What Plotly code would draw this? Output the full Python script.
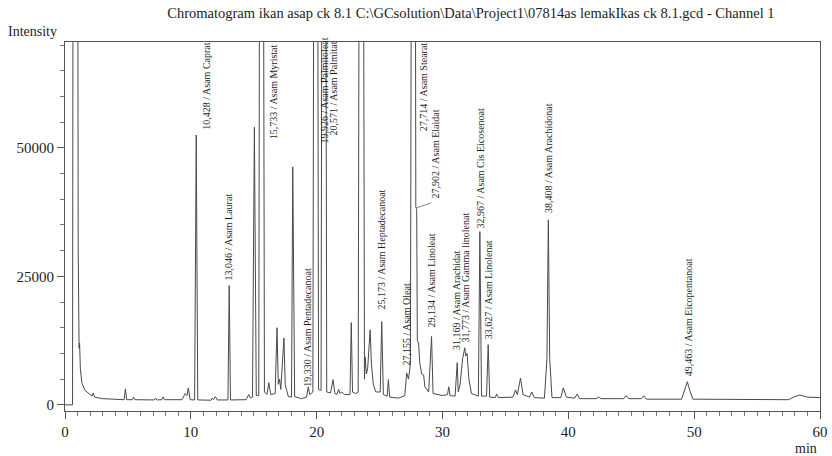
import plotly.graph_objects as go

# ---- chromatogram trace (retention time in min, intensity) ----
# off-scale peaks (clipped at the top of the frame) are given a large nominal height
rt = [0, 0.6, 0.8, 1.05, 1.12, 1.16, 1.22, 1.35, 1.6, 2.0, 2.15, 2.25, 2.35, 3.0, 4.0,
      4.7, 4.8, 4.9, 5.35, 5.45, 5.55, 7.1, 7.2, 7.3, 7.7, 7.8, 7.9, 9.3, 9.55, 9.7, 9.8, 9.95,
      10.3, 10.43, 10.55, 11.6, 11.7, 11.8, 11.95, 12.1, 12.95, 13.05, 13.15,
      14.4, 14.6, 14.75, 14.9, 15.05, 15.2, 15.4, 15.6, 15.85, 16.05, 16.2, 16.35,
      16.7, 16.85, 16.95, 17.05, 17.15, 17.4, 17.5, 17.6, 17.75, 18.0, 18.1, 18.25,
      18.8, 19.2, 19.33, 19.45, 19.7, 19.93, 20.15, 20.35, 20.57, 20.8, 21.1, 21.3, 21.45,
      21.6, 21.75, 21.85, 22.0, 22.2, 22.65, 22.75, 22.85, 23.1, 23.3, 23.55, 23.8, 23.85,
      23.95, 24.05, 24.25, 24.35, 24.5, 24.7, 25.05, 25.17, 25.3, 25.6, 25.7, 25.8,
      26.5, 27.0, 27.155, 27.3, 27.45, 27.71, 27.88, 27.95, 28.0, 28.1, 28.2, 28.35,
      28.5, 28.6, 28.9, 29.13, 29.25, 30.0, 30.4, 30.5, 30.6, 31.0, 31.17, 31.25,
      31.4, 31.6, 31.77, 31.85, 31.95, 32.1, 32.3, 32.85, 32.97, 33.1, 33.5, 33.63, 33.75,
      34.2, 34.3, 34.45, 35.6, 35.8, 35.95, 36.2, 36.4, 36.9, 37.1, 37.3, 38.1, 38.3,
      38.41, 38.52, 38.7, 39.4, 39.6, 39.85, 40.5, 40.7, 40.9, 42.2, 42.4, 42.6, 44.4,
      44.6, 44.8, 45.8, 46.0, 46.2, 49.0, 49.25, 49.46, 49.65, 49.9, 57.5, 58.0, 58.4,
      59.0, 60.0]
intensity = [0, 0, 500000, 30000, 11000, 12000, 7000, 4200, 2800, 2000, 1700, 2300, 1500, 1200, 1050,
             1000, 3100, 1000, 1000, 1500, 1000, 950, 1300, 950, 1000, 1550, 1000, 1000, 2200, 1800, 3300, 1000,
             950, 52500, 950, 900, 1300, 1000, 1600, 950, 950, 23200, 950,
             1000, 2000, 1300, 1500, 54000, 1800, 1800, 300000, 2500, 2000, 4300, 2000,
             2200, 15000, 4000, 5000, 3000, 13000, 4000, 3000, 1600, 1500, 46300, 1600,
             1200, 1500, 3500, 2000, 2500, 300000, 3000, 2800, 300000, 2500, 2300, 4900, 2200,
             2000, 3000, 2200, 2500, 2000, 2000, 16000, 2500, 2200, 2500, 300000, 5000, 9300,
             6000, 7000, 14600, 8000, 4000, 2500, 2500, 16200, 2000, 1700, 4900, 1500,
             1300, 1800, 6200, 5000, 8000, 300000, 38500, 38000, 12500, 12000, 8000, 6000,
             5800, 3500, 2500, 13300, 2200, 1800, 2000, 3500, 1800, 1700, 8200, 2500,
             4000, 9000, 11100, 9500, 10000, 5000, 2200, 1700, 33700, 1700, 1700, 11700, 1500,
             1400, 2100, 1400, 1500, 2900, 2000, 5200, 2000, 1500, 2500, 1400, 1300, 9000,
             36000, 9000, 1400, 1400, 3300, 1500, 1300, 2100, 1200, 1200, 1500, 1200, 1200,
             1800, 1200, 1200, 1750, 1100, 1100, 2800, 4500, 2800, 1100, 1000, 1600, 1900,
             1500, 1400]

# ---- axis tick labels ----
x_ticks = [0, 10, 20, 30, 40, 50, 60]
y_ticks = [0, 25000, 50000]
y_tick_text = ["0", "25000", "50000"]

# ---- peak labels ----
label_rt = ["10,428", "13,046", "15,733", "19,330", "19,926", "20,571", "25,173", "27,155",
            "27,714", "27,902", "29,134", "31,169", "31,773", "32,967", "33,627", "38,408", "49,463"]
label_name = ["Asam Caprat", "Asam Laurat", "Asam Myristat", "Asam Pentadecanoat",
              "Asam Palmitoleat", "Asam Palmitat", "Asam Heptadecanoat", "Asam Oleat",
              "Asam Stearat", "Asam Elaidat", "Asam Linoleat", "Asam Arachidat",
              "Asam Gamma linolenat", "Asam Cis Eicosenoat", "Asam Linolenat",
              "Asam Arachidonat", "Asam Eicopentanoat"]
# label placement (base of the vertical text, intensity units) and sideways offset (px)
label_base = [53100, 23740, 51400, 3100, 50400, 52000, 18100, 7200,
              52900, 39700, 14600, 10300, 11700, 33900, 12300, 37000, 5250]
label_shift = [10, -1, 10, -1, 9, 10, 0, 0, 10, 19, 0, 0, 1, 1, 0, 0, 1]

TXT = "#1e1e1e"
SERIF = "Liberation Serif, Times New Roman, serif"

fig = go.Figure()
fig.add_trace(go.Scatter(x=rt, y=intensity, mode="lines",
                         line=dict(color="#4a4a4a", width=1), hoverinfo="skip",
                         showlegend=False))

for r, n, b, s in zip(label_rt, label_name, label_base, label_shift):
    t = float(r.replace(",", "."))
    fig.add_annotation(x=t, y=b, text=f"{r} / {n}", textangle=-90, showarrow=False,
                       xanchor="center", yanchor="bottom", xshift=s, yshift=0,
                       font=dict(family=SERIF, size=10, color=TXT))

# leader line for Elaidat label
fig.add_shape(type="line", x0=27.902, y0=38300, x1=29.1, y1=39300,
              line=dict(color="#666", width=0.8))

fig.add_annotation(xref="paper", yref="paper", x=0, y=1, xshift=-59, yshift=11,
                   xanchor="left", yanchor="middle", text="Intensity", showarrow=False,
                   font=dict(family=SERIF, size=14, color=TXT))
fig.add_annotation(xref="paper", yref="paper", x=1, y=0, xshift=-14, yshift=-37,
                   xanchor="center", yanchor="middle", text="min", showarrow=False,
                   font=dict(family=SERIF, size=14, color=TXT))

fig.update_layout(
    width=832, height=456,
    margin=dict(l=65, r=12, t=42, b=45, autoexpand=False),
    paper_bgcolor="white", plot_bgcolor="white",
    title=dict(text="Chromatogram ikan asap ck 8.1 C:\\GCsolution\\Data\\Project1\\07814as lemakIkas ck 8.1.gcd - Channel 1",
               x=0.566, xref="container", xanchor="center", y=0.9715, yanchor="middle",
               font=dict(family=SERIF, size=14.5, color=TXT)),
    xaxis=dict(range=[0, 60], tickvals=x_ticks, ticks="outside", automargin=False,
               ticklen=7, tickcolor="#555", showline=True, linecolor="#555", mirror=True,
               showgrid=False, zeroline=False,
               minor=dict(dtick=1, ticks="outside", ticklen=4, tickcolor="#777", showgrid=False),
               tickfont=dict(family=SERIF, size=15, color=TXT)),
    yaxis=dict(range=[-1200, 70600], tickvals=y_ticks, ticktext=y_tick_text, ticks="outside",
               automargin=False,
               ticklen=7, tickcolor="#555", showline=True, linecolor="#555", mirror=True,
               showgrid=False, zeroline=False,
               minor=dict(dtick=5000, ticks="outside", ticklen=4, tickcolor="#777", showgrid=False),
               tickfont=dict(family=SERIF, size=15, color=TXT)),
)

fig.write_html("out.html")
